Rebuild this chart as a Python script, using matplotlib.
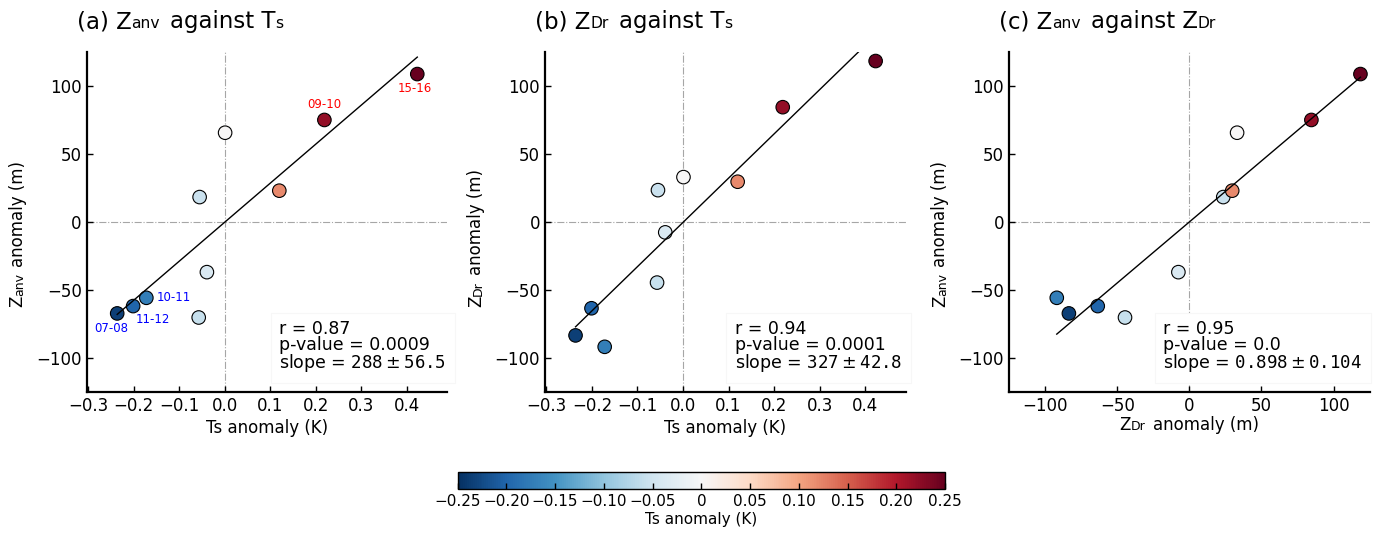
import matplotlib.pyplot as plt
import numpy as np
from matplotlib import cm, colors
from matplotlib.offsetbox import AnnotationBbox, DrawingArea, HPacker, TextArea
from matplotlib.ticker import MultipleLocator

# one point per season, sorted by Ts anomaly
ts_anom = [-0.236, -0.201, -0.172, -0.055, -0.057, -0.039, 0.001, 0.120, 0.219, 0.423]
zanv_anom = [-67.3, -61.9, -55.8, 18.4, -70.3, -36.9, 65.8, 23.1, 75.2, 109.0]
zdr_anom = [-83.5, -63.5, -91.9, 23.5, -44.6, -7.6, 33.1, 29.7, 84.6, 118.6]
season_labels = ["07-08", "11-12", "10-11", "", "", "", "", "", "09-10", "15-16"]

stat_r = ["0.87", "0.94", "0.95"]
stat_p = ["0.0009", "0.0001", "0.0"]
stat_slope = ["288", "327", "0.898"]
stat_err = ["56.5", "42.8", "0.104"]

cbar_ticks = [-0.25, -0.20, -0.15, -0.10, -0.05, 0.0, 0.05, 0.10, 0.15, 0.20, 0.25]
cbar_ticklabels = ["\u22120.25", "\u22120.20", "\u22120.15", "\u22120.10", "\u22120.05", "0",
                   "0.05", "0.10", "0.15", "0.20", "0.25"]

# label placement (pixels from point) and alignment, only panel (a)
LABEL_STYLE = {
    "07-08": ((-6, -15), "center"),
    "11-12": ((3, -13), "left"),
    "10-11": ((10, 0), "left"),
    "09-10": ((0, 15), "center"),
    "15-16": ((-2, -14), "center"),
}

DPI = 100
BIG = 16.5
SMALL_T = 11.2
LAB = 12
SMALL_L = 9
TICK = 12

norm = colors.Normalize(vmin=-0.25, vmax=0.25)
cmap = plt.get_cmap("RdBu_r")


def space_px(size):
    return 0.318 * size * DPI / 72


def rich_title(ax, parts, size):
    kids = []
    for s, fs in parts:
        if s is None:
            kids.append(DrawingArea(space_px(size), 1))
        else:
            kids.append(TextArea(s, textprops=dict(fontsize=fs)))
    box = HPacker(children=kids, align="baseline", pad=0, sep=0)
    ab = AnnotationBbox(box, (0, 1), xycoords="axes fraction", xybox=(-10, 19),
                        boxcoords="offset pixels", box_alignment=(0, 0),
                        frameon=False, annotation_clip=False)
    ax.add_artist(ab)


def rich_xlabel(ax, parts, size):
    kids = []
    for s, fs in parts:
        if s is None:
            kids.append(DrawingArea(space_px(size), 1))
        else:
            kids.append(TextArea(s, textprops=dict(fontsize=fs)))
    box = HPacker(children=kids, align="baseline", pad=0, sep=0)
    ab = AnnotationBbox(box, (0.5, 0), xycoords="axes fraction", xybox=(0, -24),
                        boxcoords="offset pixels", box_alignment=(0.5, 1),
                        frameon=False, annotation_clip=False)
    ax.add_artist(ab)


def rich_ylabel(ax, parts, size, y0=0.25, xoff=-60):
    prev = None
    for k, (s, fs) in enumerate(parts):
        if s is None:
            continue
        gap = space_px(size) if k > 0 and parts[k - 1][0] is None else 0
        if prev is None:
            prev = ax.annotate(s, xy=(0, y0), xycoords="axes fraction", xytext=(xoff, 0),
                               textcoords="offset pixels", rotation=90, ha="right",
                               va="bottom", fontsize=fs, annotation_clip=False)
        else:
            prev = ax.annotate(s, xy=(1, 1), xycoords=prev, xytext=(0, gap),
                               textcoords="offset pixels", rotation=90, ha="right",
                               va="bottom", fontsize=fs, annotation_clip=False)


fig = plt.figure(figsize=(13.76, 5.33), dpi=DPI)
ax_a = fig.add_axes([0.063, 0.265, 0.2621, 0.6368])
ax_b = fig.add_axes([0.3961, 0.265, 0.2621, 0.6368])
ax_c = fig.add_axes([0.7333, 0.265, 0.2621, 0.6368])

panels = [
    (ax_a, ts_anom, zanv_anom, 0.534),
    (ax_b, ts_anom, zdr_anom, 0.526),
    (ax_c, zdr_anom, zanv_anom, 0.428),
]

for i, (ax, x, y, tx) in enumerate(panels):
    x = np.asarray(x)
    y = np.asarray(y)
    ax.axhline(0, color="0.65", ls="-.", lw=0.8, zorder=0)
    ax.axvline(0, color="0.65", ls="-.", lw=0.8, zorder=0)
    ax.scatter(x, y, c=ts_anom, cmap=cmap, norm=norm, s=95,
               edgecolors="black", linewidths=0.8, zorder=2)
    slope, icpt = np.polyfit(x, y, 1)
    xx = np.array([x.min(), x.max()])
    ax.plot(xx, slope * xx + icpt, color="black", lw=1, zorder=3)

    txt = (f"r = {stat_r[i]}\np-value = {stat_p[i]}\n"
           f"slope = $\\mathtt{{{stat_slope[i]}}} \\pm \\mathtt{{{stat_err[i]}}}$")
    ax.text(tx, 0.07, txt, transform=ax.transAxes, fontsize=12.5, va="baseline",
            ha="left", linespacing=0.88, zorder=4,
            bbox=dict(boxstyle="square,pad=0.5", fc="white", ec="0.97", lw=0.8))

    ax.set_ylim(-125, 125)
    if i < 2:
        ax.set_xlim(-0.303, 0.489)
        ax.xaxis.set_major_locator(MultipleLocator(0.1))
    else:
        ax.set_xlim(-125, 125)
        ax.xaxis.set_major_locator(MultipleLocator(50))
    ax.yaxis.set_major_locator(MultipleLocator(50))
    for side in ["top", "right"]:
        ax.spines[side].set_visible(False)
    for side in ["left", "bottom"]:
        ax.spines[side].set_linewidth(1.6)
    ax.tick_params(direction="in", length=4, width=1, labelsize=TICK,
                   top=False, right=False)

# season labels in panel (a)
for xv, yv, lab in zip(ts_anom, zanv_anom, season_labels):
    if not lab:
        continue
    off, ha = LABEL_STYLE[lab]
    ax_a.annotate(lab, (xv, yv), xytext=off, textcoords="offset pixels",
                  ha=ha, va="center", fontsize=8.5,
                  color="blue" if xv < 0 else "red")

ax_a.set_xlabel("Ts anomaly (K)", fontsize=LAB, labelpad=3)
ax_b.set_xlabel("Ts anomaly (K)", fontsize=LAB, labelpad=3)
rich_xlabel(ax_c, [("Z", LAB), ("Dr", SMALL_L), (None, LAB), ("anomaly (m)", LAB)], LAB)

rich_ylabel(ax_a, [("Z", LAB), ("anv", SMALL_L), (None, LAB), ("anomaly (m)", LAB)], LAB)
rich_ylabel(ax_b, [("Z", LAB), ("Dr", SMALL_L), (None, LAB), ("anomaly (m)", LAB)], LAB)
rich_ylabel(ax_c, [("Z", LAB), ("anv", SMALL_L), (None, LAB), ("anomaly (m)", LAB)], LAB)

rich_title(ax_a, [("(a) Z", BIG), ("anv", SMALL_T), (None, BIG), ("against T", BIG),
                  ("s", SMALL_T)], BIG)
rich_title(ax_b, [("(b) Z", BIG), ("Dr", SMALL_T), (None, BIG), ("against T", BIG),
                  ("s", SMALL_T)], BIG)
rich_title(ax_c, [("(c) Z", BIG), ("anv", SMALL_T), (None, BIG), ("against Z", BIG),
                  ("Dr", SMALL_T)], BIG)

cax = fig.add_axes([0.3326, 0.082, 0.3542, 0.032])
cb = fig.colorbar(cm.ScalarMappable(norm=norm, cmap=cmap), cax=cax,
                  orientation="horizontal")
cb.set_ticks(cbar_ticks)
cb.set_ticklabels(cbar_ticklabels)
cb.outline.set_linewidth(1)
cax.tick_params(direction="in", length=4, width=1, labelsize=11)
cb.set_label("Ts anomaly (K)", fontsize=11, labelpad=2)

fig.savefig("out.png", dpi=DPI)
